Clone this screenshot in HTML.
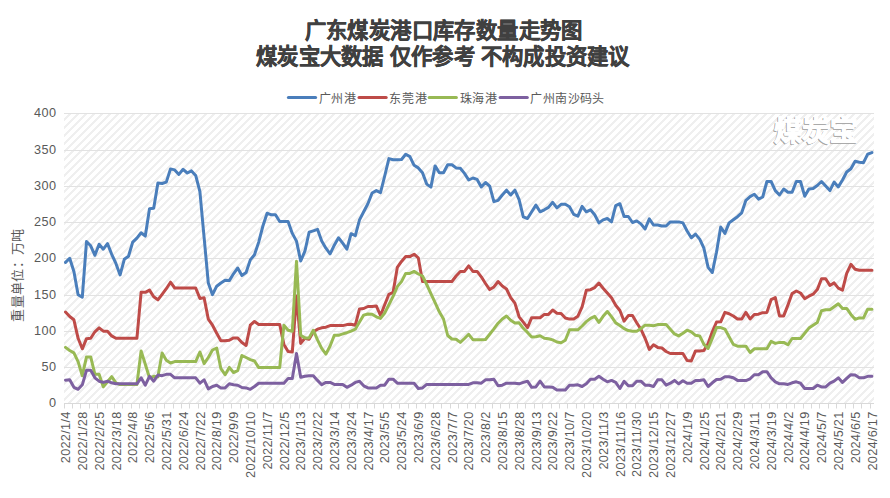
<!DOCTYPE html><html lang="zh-CN"><head><meta charset="utf-8"><style>html,body{margin:0;padding:0;background:#fff;width:890px;height:498px;overflow:hidden}svg{display:block}text{font-family:"Liberation Sans",sans-serif}</style></head><body>
<svg width="890" height="498" viewBox="0 0 890 498">
<defs><pattern id="h" patternUnits="userSpaceOnUse" x="0" y="0" width="8" height="8"><g fill="#efefef" shape-rendering="crispEdges"><rect x="0" y="0" width="1" height="1"/><rect x="6" y="0" width="1" height="1"/><rect x="7" y="0" width="1" height="1"/><rect x="5" y="1" width="1" height="1"/><rect x="6" y="1" width="1" height="1"/><rect x="7" y="1" width="1" height="1"/><rect x="4" y="2" width="1" height="1"/><rect x="5" y="2" width="1" height="1"/><rect x="6" y="2" width="1" height="1"/><rect x="3" y="3" width="1" height="1"/><rect x="4" y="3" width="1" height="1"/><rect x="5" y="3" width="1" height="1"/><rect x="2" y="4" width="1" height="1"/><rect x="3" y="4" width="1" height="1"/><rect x="4" y="4" width="1" height="1"/><rect x="1" y="5" width="1" height="1"/><rect x="2" y="5" width="1" height="1"/><rect x="3" y="5" width="1" height="1"/><rect x="0" y="6" width="1" height="1"/><rect x="1" y="6" width="1" height="1"/><rect x="2" y="6" width="1" height="1"/><rect x="0" y="7" width="1" height="1"/><rect x="1" y="7" width="1" height="1"/><rect x="7" y="7" width="1" height="1"/></g></pattern>
<clipPath id="pc"><rect x="64.00" y="110.40" width="810.00" height="293.00"/></clipPath></defs>
<rect x="64.00" y="113.40" width="810.00" height="290.00" fill="url(#h)"/>
<line x1="64.0" x2="874.0" y1="367.5" y2="367.5" stroke="#e2e2e2" stroke-width="1"/>
<line x1="64.0" x2="874.0" y1="331.5" y2="331.5" stroke="#e2e2e2" stroke-width="1"/>
<line x1="64.0" x2="874.0" y1="295.5" y2="295.5" stroke="#e2e2e2" stroke-width="1"/>
<line x1="64.0" x2="874.0" y1="258.5" y2="258.5" stroke="#e2e2e2" stroke-width="1"/>
<line x1="64.0" x2="874.0" y1="222.5" y2="222.5" stroke="#e2e2e2" stroke-width="1"/>
<line x1="64.0" x2="874.0" y1="186.5" y2="186.5" stroke="#e2e2e2" stroke-width="1"/>
<line x1="64.0" x2="874.0" y1="150.5" y2="150.5" stroke="#e2e2e2" stroke-width="1"/>
<line x1="64.0" x2="874.0" y1="113.5" y2="113.5" stroke="#e2e2e2" stroke-width="1"/>
<line x1="64.0" x2="874.0" y1="403.5" y2="403.5" stroke="#d9d9d9" stroke-width="1"/>
<line x1="64.5" x2="64.5" y1="403.5" y2="408.5" stroke="#d9d9d9" stroke-width="1"/>
<line x1="72.5" x2="72.5" y1="403.5" y2="408.5" stroke="#d9d9d9" stroke-width="1"/>
<line x1="80.5" x2="80.5" y1="403.5" y2="408.5" stroke="#d9d9d9" stroke-width="1"/>
<line x1="89.5" x2="89.5" y1="403.5" y2="408.5" stroke="#d9d9d9" stroke-width="1"/>
<line x1="97.5" x2="97.5" y1="403.5" y2="408.5" stroke="#d9d9d9" stroke-width="1"/>
<line x1="105.5" x2="105.5" y1="403.5" y2="408.5" stroke="#d9d9d9" stroke-width="1"/>
<line x1="114.5" x2="114.5" y1="403.5" y2="408.5" stroke="#d9d9d9" stroke-width="1"/>
<line x1="122.5" x2="122.5" y1="403.5" y2="408.5" stroke="#d9d9d9" stroke-width="1"/>
<line x1="131.5" x2="131.5" y1="403.5" y2="408.5" stroke="#d9d9d9" stroke-width="1"/>
<line x1="139.5" x2="139.5" y1="403.5" y2="408.5" stroke="#d9d9d9" stroke-width="1"/>
<line x1="147.5" x2="147.5" y1="403.5" y2="408.5" stroke="#d9d9d9" stroke-width="1"/>
<line x1="156.5" x2="156.5" y1="403.5" y2="408.5" stroke="#d9d9d9" stroke-width="1"/>
<line x1="164.5" x2="164.5" y1="403.5" y2="408.5" stroke="#d9d9d9" stroke-width="1"/>
<line x1="173.5" x2="173.5" y1="403.5" y2="408.5" stroke="#d9d9d9" stroke-width="1"/>
<line x1="181.5" x2="181.5" y1="403.5" y2="408.5" stroke="#d9d9d9" stroke-width="1"/>
<line x1="189.5" x2="189.5" y1="403.5" y2="408.5" stroke="#d9d9d9" stroke-width="1"/>
<line x1="198.5" x2="198.5" y1="403.5" y2="408.5" stroke="#d9d9d9" stroke-width="1"/>
<line x1="206.5" x2="206.5" y1="403.5" y2="408.5" stroke="#d9d9d9" stroke-width="1"/>
<line x1="215.5" x2="215.5" y1="403.5" y2="408.5" stroke="#d9d9d9" stroke-width="1"/>
<line x1="223.5" x2="223.5" y1="403.5" y2="408.5" stroke="#d9d9d9" stroke-width="1"/>
<line x1="231.5" x2="231.5" y1="403.5" y2="408.5" stroke="#d9d9d9" stroke-width="1"/>
<line x1="240.5" x2="240.5" y1="403.5" y2="408.5" stroke="#d9d9d9" stroke-width="1"/>
<line x1="248.5" x2="248.5" y1="403.5" y2="408.5" stroke="#d9d9d9" stroke-width="1"/>
<line x1="257.5" x2="257.5" y1="403.5" y2="408.5" stroke="#d9d9d9" stroke-width="1"/>
<line x1="265.5" x2="265.5" y1="403.5" y2="408.5" stroke="#d9d9d9" stroke-width="1"/>
<line x1="273.5" x2="273.5" y1="403.5" y2="408.5" stroke="#d9d9d9" stroke-width="1"/>
<line x1="282.5" x2="282.5" y1="403.5" y2="408.5" stroke="#d9d9d9" stroke-width="1"/>
<line x1="290.5" x2="290.5" y1="403.5" y2="408.5" stroke="#d9d9d9" stroke-width="1"/>
<line x1="299.5" x2="299.5" y1="403.5" y2="408.5" stroke="#d9d9d9" stroke-width="1"/>
<line x1="307.5" x2="307.5" y1="403.5" y2="408.5" stroke="#d9d9d9" stroke-width="1"/>
<line x1="315.5" x2="315.5" y1="403.5" y2="408.5" stroke="#d9d9d9" stroke-width="1"/>
<line x1="324.5" x2="324.5" y1="403.5" y2="408.5" stroke="#d9d9d9" stroke-width="1"/>
<line x1="332.5" x2="332.5" y1="403.5" y2="408.5" stroke="#d9d9d9" stroke-width="1"/>
<line x1="341.5" x2="341.5" y1="403.5" y2="408.5" stroke="#d9d9d9" stroke-width="1"/>
<line x1="349.5" x2="349.5" y1="403.5" y2="408.5" stroke="#d9d9d9" stroke-width="1"/>
<line x1="357.5" x2="357.5" y1="403.5" y2="408.5" stroke="#d9d9d9" stroke-width="1"/>
<line x1="366.5" x2="366.5" y1="403.5" y2="408.5" stroke="#d9d9d9" stroke-width="1"/>
<line x1="374.5" x2="374.5" y1="403.5" y2="408.5" stroke="#d9d9d9" stroke-width="1"/>
<line x1="383.5" x2="383.5" y1="403.5" y2="408.5" stroke="#d9d9d9" stroke-width="1"/>
<line x1="391.5" x2="391.5" y1="403.5" y2="408.5" stroke="#d9d9d9" stroke-width="1"/>
<line x1="399.5" x2="399.5" y1="403.5" y2="408.5" stroke="#d9d9d9" stroke-width="1"/>
<line x1="408.5" x2="408.5" y1="403.5" y2="408.5" stroke="#d9d9d9" stroke-width="1"/>
<line x1="416.5" x2="416.5" y1="403.5" y2="408.5" stroke="#d9d9d9" stroke-width="1"/>
<line x1="425.5" x2="425.5" y1="403.5" y2="408.5" stroke="#d9d9d9" stroke-width="1"/>
<line x1="433.5" x2="433.5" y1="403.5" y2="408.5" stroke="#d9d9d9" stroke-width="1"/>
<line x1="441.5" x2="441.5" y1="403.5" y2="408.5" stroke="#d9d9d9" stroke-width="1"/>
<line x1="450.5" x2="450.5" y1="403.5" y2="408.5" stroke="#d9d9d9" stroke-width="1"/>
<line x1="458.5" x2="458.5" y1="403.5" y2="408.5" stroke="#d9d9d9" stroke-width="1"/>
<line x1="467.5" x2="467.5" y1="403.5" y2="408.5" stroke="#d9d9d9" stroke-width="1"/>
<line x1="475.5" x2="475.5" y1="403.5" y2="408.5" stroke="#d9d9d9" stroke-width="1"/>
<line x1="483.5" x2="483.5" y1="403.5" y2="408.5" stroke="#d9d9d9" stroke-width="1"/>
<line x1="492.5" x2="492.5" y1="403.5" y2="408.5" stroke="#d9d9d9" stroke-width="1"/>
<line x1="500.5" x2="500.5" y1="403.5" y2="408.5" stroke="#d9d9d9" stroke-width="1"/>
<line x1="509.5" x2="509.5" y1="403.5" y2="408.5" stroke="#d9d9d9" stroke-width="1"/>
<line x1="517.5" x2="517.5" y1="403.5" y2="408.5" stroke="#d9d9d9" stroke-width="1"/>
<line x1="525.5" x2="525.5" y1="403.5" y2="408.5" stroke="#d9d9d9" stroke-width="1"/>
<line x1="534.5" x2="534.5" y1="403.5" y2="408.5" stroke="#d9d9d9" stroke-width="1"/>
<line x1="542.5" x2="542.5" y1="403.5" y2="408.5" stroke="#d9d9d9" stroke-width="1"/>
<line x1="551.5" x2="551.5" y1="403.5" y2="408.5" stroke="#d9d9d9" stroke-width="1"/>
<line x1="559.5" x2="559.5" y1="403.5" y2="408.5" stroke="#d9d9d9" stroke-width="1"/>
<line x1="567.5" x2="567.5" y1="403.5" y2="408.5" stroke="#d9d9d9" stroke-width="1"/>
<line x1="576.5" x2="576.5" y1="403.5" y2="408.5" stroke="#d9d9d9" stroke-width="1"/>
<line x1="584.5" x2="584.5" y1="403.5" y2="408.5" stroke="#d9d9d9" stroke-width="1"/>
<line x1="593.5" x2="593.5" y1="403.5" y2="408.5" stroke="#d9d9d9" stroke-width="1"/>
<line x1="601.5" x2="601.5" y1="403.5" y2="408.5" stroke="#d9d9d9" stroke-width="1"/>
<line x1="609.5" x2="609.5" y1="403.5" y2="408.5" stroke="#d9d9d9" stroke-width="1"/>
<line x1="618.5" x2="618.5" y1="403.5" y2="408.5" stroke="#d9d9d9" stroke-width="1"/>
<line x1="626.5" x2="626.5" y1="403.5" y2="408.5" stroke="#d9d9d9" stroke-width="1"/>
<line x1="635.5" x2="635.5" y1="403.5" y2="408.5" stroke="#d9d9d9" stroke-width="1"/>
<line x1="643.5" x2="643.5" y1="403.5" y2="408.5" stroke="#d9d9d9" stroke-width="1"/>
<line x1="651.5" x2="651.5" y1="403.5" y2="408.5" stroke="#d9d9d9" stroke-width="1"/>
<line x1="660.5" x2="660.5" y1="403.5" y2="408.5" stroke="#d9d9d9" stroke-width="1"/>
<line x1="668.5" x2="668.5" y1="403.5" y2="408.5" stroke="#d9d9d9" stroke-width="1"/>
<line x1="677.5" x2="677.5" y1="403.5" y2="408.5" stroke="#d9d9d9" stroke-width="1"/>
<line x1="685.5" x2="685.5" y1="403.5" y2="408.5" stroke="#d9d9d9" stroke-width="1"/>
<line x1="693.5" x2="693.5" y1="403.5" y2="408.5" stroke="#d9d9d9" stroke-width="1"/>
<line x1="702.5" x2="702.5" y1="403.5" y2="408.5" stroke="#d9d9d9" stroke-width="1"/>
<line x1="710.5" x2="710.5" y1="403.5" y2="408.5" stroke="#d9d9d9" stroke-width="1"/>
<line x1="719.5" x2="719.5" y1="403.5" y2="408.5" stroke="#d9d9d9" stroke-width="1"/>
<line x1="727.5" x2="727.5" y1="403.5" y2="408.5" stroke="#d9d9d9" stroke-width="1"/>
<line x1="735.5" x2="735.5" y1="403.5" y2="408.5" stroke="#d9d9d9" stroke-width="1"/>
<line x1="744.5" x2="744.5" y1="403.5" y2="408.5" stroke="#d9d9d9" stroke-width="1"/>
<line x1="752.5" x2="752.5" y1="403.5" y2="408.5" stroke="#d9d9d9" stroke-width="1"/>
<line x1="761.5" x2="761.5" y1="403.5" y2="408.5" stroke="#d9d9d9" stroke-width="1"/>
<line x1="769.5" x2="769.5" y1="403.5" y2="408.5" stroke="#d9d9d9" stroke-width="1"/>
<line x1="777.5" x2="777.5" y1="403.5" y2="408.5" stroke="#d9d9d9" stroke-width="1"/>
<line x1="786.5" x2="786.5" y1="403.5" y2="408.5" stroke="#d9d9d9" stroke-width="1"/>
<line x1="794.5" x2="794.5" y1="403.5" y2="408.5" stroke="#d9d9d9" stroke-width="1"/>
<line x1="803.5" x2="803.5" y1="403.5" y2="408.5" stroke="#d9d9d9" stroke-width="1"/>
<line x1="811.5" x2="811.5" y1="403.5" y2="408.5" stroke="#d9d9d9" stroke-width="1"/>
<line x1="819.5" x2="819.5" y1="403.5" y2="408.5" stroke="#d9d9d9" stroke-width="1"/>
<line x1="828.5" x2="828.5" y1="403.5" y2="408.5" stroke="#d9d9d9" stroke-width="1"/>
<line x1="836.5" x2="836.5" y1="403.5" y2="408.5" stroke="#d9d9d9" stroke-width="1"/>
<line x1="845.5" x2="845.5" y1="403.5" y2="408.5" stroke="#d9d9d9" stroke-width="1"/>
<line x1="853.5" x2="853.5" y1="403.5" y2="408.5" stroke="#d9d9d9" stroke-width="1"/>
<line x1="861.5" x2="861.5" y1="403.5" y2="408.5" stroke="#d9d9d9" stroke-width="1"/>
<line x1="870.5" x2="870.5" y1="403.5" y2="408.5" stroke="#d9d9d9" stroke-width="1"/>
<text x="56.6" y="407.35" font-size="12.7" letter-spacing="0.5" fill="#595959" text-anchor="end">0</text>
<text x="56.6" y="371.35" font-size="12.7" letter-spacing="0.5" fill="#595959" text-anchor="end">50</text>
<text x="56.6" y="335.35" font-size="12.7" letter-spacing="0.5" fill="#595959" text-anchor="end">100</text>
<text x="56.6" y="299.35" font-size="12.7" letter-spacing="0.5" fill="#595959" text-anchor="end">150</text>
<text x="56.6" y="262.35" font-size="12.7" letter-spacing="0.5" fill="#595959" text-anchor="end">200</text>
<text x="56.6" y="226.35" font-size="12.7" letter-spacing="0.5" fill="#595959" text-anchor="end">250</text>
<text x="56.6" y="190.35" font-size="12.7" letter-spacing="0.5" fill="#595959" text-anchor="end">300</text>
<text x="56.6" y="154.35" font-size="12.7" letter-spacing="0.5" fill="#595959" text-anchor="end">350</text>
<text x="56.6" y="117.35" font-size="12.7" letter-spacing="0.5" fill="#595959" text-anchor="end">400</text>
<text transform="translate(70.15,411.4) rotate(-90)" font-size="12.7" letter-spacing="0.3" fill="#595959" text-anchor="end">2022/1/4</text>
<text transform="translate(86.95,411.4) rotate(-90)" font-size="12.7" letter-spacing="0.3" fill="#595959" text-anchor="end">2022/1/28</text>
<text transform="translate(103.75,411.4) rotate(-90)" font-size="12.7" letter-spacing="0.3" fill="#595959" text-anchor="end">2022/2/25</text>
<text transform="translate(120.55,411.4) rotate(-90)" font-size="12.7" letter-spacing="0.3" fill="#595959" text-anchor="end">2022/3/18</text>
<text transform="translate(137.35,411.4) rotate(-90)" font-size="12.7" letter-spacing="0.3" fill="#595959" text-anchor="end">2022/4/8</text>
<text transform="translate(154.15,411.4) rotate(-90)" font-size="12.7" letter-spacing="0.3" fill="#595959" text-anchor="end">2022/5/6</text>
<text transform="translate(170.95,411.4) rotate(-90)" font-size="12.7" letter-spacing="0.3" fill="#595959" text-anchor="end">2022/5/31</text>
<text transform="translate(187.75,411.4) rotate(-90)" font-size="12.7" letter-spacing="0.3" fill="#595959" text-anchor="end">2022/6/24</text>
<text transform="translate(204.55,411.4) rotate(-90)" font-size="12.7" letter-spacing="0.3" fill="#595959" text-anchor="end">2022/7/22</text>
<text transform="translate(221.35,411.4) rotate(-90)" font-size="12.7" letter-spacing="0.3" fill="#595959" text-anchor="end">2022/8/19</text>
<text transform="translate(238.15,411.4) rotate(-90)" font-size="12.7" letter-spacing="0.3" fill="#595959" text-anchor="end">2022/9/9</text>
<text transform="translate(254.95,411.4) rotate(-90)" font-size="12.7" letter-spacing="0.3" fill="#595959" text-anchor="end">2022/10/10</text>
<text transform="translate(271.75,411.4) rotate(-90)" font-size="12.7" letter-spacing="0.3" fill="#595959" text-anchor="end">2022/11/7</text>
<text transform="translate(288.55,411.4) rotate(-90)" font-size="12.7" letter-spacing="0.3" fill="#595959" text-anchor="end">2022/12/5</text>
<text transform="translate(305.35,411.4) rotate(-90)" font-size="12.7" letter-spacing="0.3" fill="#595959" text-anchor="end">2023/1/13</text>
<text transform="translate(322.15,411.4) rotate(-90)" font-size="12.7" letter-spacing="0.3" fill="#595959" text-anchor="end">2023/2/22</text>
<text transform="translate(338.95,411.4) rotate(-90)" font-size="12.7" letter-spacing="0.3" fill="#595959" text-anchor="end">2023/3/14</text>
<text transform="translate(355.75,411.4) rotate(-90)" font-size="12.7" letter-spacing="0.3" fill="#595959" text-anchor="end">2023/3/24</text>
<text transform="translate(372.55,411.4) rotate(-90)" font-size="12.7" letter-spacing="0.3" fill="#595959" text-anchor="end">2023/4/17</text>
<text transform="translate(389.35,411.4) rotate(-90)" font-size="12.7" letter-spacing="0.3" fill="#595959" text-anchor="end">2023/5/5</text>
<text transform="translate(406.15,411.4) rotate(-90)" font-size="12.7" letter-spacing="0.3" fill="#595959" text-anchor="end">2023/5/24</text>
<text transform="translate(422.95,411.4) rotate(-90)" font-size="12.7" letter-spacing="0.3" fill="#595959" text-anchor="end">2023/6/9</text>
<text transform="translate(439.75,411.4) rotate(-90)" font-size="12.7" letter-spacing="0.3" fill="#595959" text-anchor="end">2023/6/28</text>
<text transform="translate(456.55,411.4) rotate(-90)" font-size="12.7" letter-spacing="0.3" fill="#595959" text-anchor="end">2023/7/7</text>
<text transform="translate(473.35,411.4) rotate(-90)" font-size="12.7" letter-spacing="0.3" fill="#595959" text-anchor="end">2023/7/20</text>
<text transform="translate(490.15,411.4) rotate(-90)" font-size="12.7" letter-spacing="0.3" fill="#595959" text-anchor="end">2023/8/2</text>
<text transform="translate(506.95,411.4) rotate(-90)" font-size="12.7" letter-spacing="0.3" fill="#595959" text-anchor="end">2023/8/15</text>
<text transform="translate(523.75,411.4) rotate(-90)" font-size="12.7" letter-spacing="0.3" fill="#595959" text-anchor="end">2023/8/28</text>
<text transform="translate(540.55,411.4) rotate(-90)" font-size="12.7" letter-spacing="0.3" fill="#595959" text-anchor="end">2023/9/13</text>
<text transform="translate(557.35,411.4) rotate(-90)" font-size="12.7" letter-spacing="0.3" fill="#595959" text-anchor="end">2023/9/22</text>
<text transform="translate(574.15,411.4) rotate(-90)" font-size="12.7" letter-spacing="0.3" fill="#595959" text-anchor="end">2023/10/7</text>
<text transform="translate(590.95,411.4) rotate(-90)" font-size="12.7" letter-spacing="0.3" fill="#595959" text-anchor="end">2023/10/20</text>
<text transform="translate(607.75,411.4) rotate(-90)" font-size="12.7" letter-spacing="0.3" fill="#595959" text-anchor="end">2023/11/3</text>
<text transform="translate(624.55,411.4) rotate(-90)" font-size="12.7" letter-spacing="0.3" fill="#595959" text-anchor="end">2023/11/16</text>
<text transform="translate(641.35,411.4) rotate(-90)" font-size="12.7" letter-spacing="0.3" fill="#595959" text-anchor="end">2023/11/30</text>
<text transform="translate(658.15,411.4) rotate(-90)" font-size="12.7" letter-spacing="0.3" fill="#595959" text-anchor="end">2023/12/15</text>
<text transform="translate(674.95,411.4) rotate(-90)" font-size="12.7" letter-spacing="0.3" fill="#595959" text-anchor="end">2023/12/27</text>
<text transform="translate(691.75,411.4) rotate(-90)" font-size="12.7" letter-spacing="0.3" fill="#595959" text-anchor="end">2024/1/9</text>
<text transform="translate(708.55,411.4) rotate(-90)" font-size="12.7" letter-spacing="0.3" fill="#595959" text-anchor="end">2024/1/25</text>
<text transform="translate(725.35,411.4) rotate(-90)" font-size="12.7" letter-spacing="0.3" fill="#595959" text-anchor="end">2024/2/21</text>
<text transform="translate(742.15,411.4) rotate(-90)" font-size="12.7" letter-spacing="0.3" fill="#595959" text-anchor="end">2024/2/29</text>
<text transform="translate(758.95,411.4) rotate(-90)" font-size="12.7" letter-spacing="0.3" fill="#595959" text-anchor="end">2024/3/11</text>
<text transform="translate(775.75,411.4) rotate(-90)" font-size="12.7" letter-spacing="0.3" fill="#595959" text-anchor="end">2024/3/19</text>
<text transform="translate(792.55,411.4) rotate(-90)" font-size="12.7" letter-spacing="0.3" fill="#595959" text-anchor="end">2024/4/2</text>
<text transform="translate(809.35,411.4) rotate(-90)" font-size="12.7" letter-spacing="0.3" fill="#595959" text-anchor="end">2024/4/19</text>
<text transform="translate(826.15,411.4) rotate(-90)" font-size="12.7" letter-spacing="0.3" fill="#595959" text-anchor="end">2024/5/7</text>
<text transform="translate(842.95,411.4) rotate(-90)" font-size="12.7" letter-spacing="0.3" fill="#595959" text-anchor="end">2024/5/21</text>
<text transform="translate(859.75,411.4) rotate(-90)" font-size="12.7" letter-spacing="0.3" fill="#595959" text-anchor="end">2024/6/5</text>
<text transform="translate(876.55,411.4) rotate(-90)" font-size="12.7" letter-spacing="0.3" fill="#595959" text-anchor="end">2024/6/17</text>
<text transform="translate(22.3,275.0) rotate(-90)" font-size="13" letter-spacing="0.3" fill="#595959" text-anchor="middle">重量单位：万吨</text>
<text x="443.7" y="38" font-size="21.33" letter-spacing="0.4" font-weight="bold" fill="#404040" stroke="#404040" stroke-width="0.45" text-anchor="middle">广东煤炭港口库存数量走势图</text>
<text x="442.9" y="63.7" font-size="21.33" letter-spacing="0.25" font-weight="bold" fill="#404040" stroke="#404040" stroke-width="0.45" text-anchor="middle">煤炭宝大数据 仅作参考 不构成投资建议</text>
<line x1="288.4" x2="315.6" y1="97.55" y2="97.55" stroke="#4a7ebb" stroke-width="3" stroke-linecap="round"/>
<text x="318.6" y="102.8" font-size="12" letter-spacing="0.7" fill="#595959">广州港</text>
<line x1="359.0" x2="386.2" y1="97.55" y2="97.55" stroke="#be4b48" stroke-width="3" stroke-linecap="round"/>
<text x="389.2" y="102.8" font-size="12" letter-spacing="0.7" fill="#595959">东莞港</text>
<line x1="429.2" x2="456.4" y1="97.55" y2="97.55" stroke="#98b954" stroke-width="3" stroke-linecap="round"/>
<text x="459.5" y="102.8" font-size="12" letter-spacing="0.7" fill="#595959">珠海港</text>
<line x1="500.1" x2="527.3" y1="97.55" y2="97.55" stroke="#7d60a0" stroke-width="3" stroke-linecap="round"/>
<text x="530.4" y="102.8" font-size="12" letter-spacing="0.4" fill="#595959">广州南沙码头</text>
<text x="816.3" y="141.3" font-size="28" font-weight="bold" fill="#a6a6a6" stroke="#a6a6a6" stroke-width="0.6" stroke-linejoin="round" text-anchor="middle" transform="translate(-0.8,0.8)">煤炭宝</text>
<text x="816.3" y="141.3" font-size="28" font-weight="bold" fill="#ffffff" stroke="#ffffff" stroke-width="0.8" stroke-linejoin="round" text-anchor="middle">煤炭宝</text>
<path d="M65.50 262.40 L69.70 258.30 L73.90 271.50 L78.10 294.70 L82.30 297.20 L86.50 241.60 L90.70 245.80 L94.90 255.30 L99.10 244.20 L103.30 249.20 L107.50 243.60 L111.70 254.30 L115.90 263.40 L120.10 274.90 L124.30 259.30 L128.50 256.30 L132.70 242.10 L136.90 238.10 L141.10 232.80 L145.30 236.10 L149.50 208.80 L153.70 208.20 L157.90 183.10 L162.10 183.50 L166.30 182.10 L170.50 168.90 L174.70 169.90 L178.90 174.40 L183.10 169.30 L187.30 173.00 L191.50 170.90 L195.70 175.40 L199.90 191.60 L204.10 237.30 L208.30 283.00 L212.50 294.70 L216.70 286.20 L220.90 283.00 L225.10 280.20 L229.30 280.60 L233.50 273.80 L237.70 268.00 L241.90 275.50 L246.10 272.50 L250.30 259.90 L254.50 254.70 L258.70 242.10 L262.90 226.00 L267.10 213.20 L271.30 214.80 L275.50 214.80 L279.70 221.50 L283.90 221.50 L288.10 221.50 L292.30 233.40 L296.50 241.10 L300.70 261.00 L304.90 251.20 L309.10 232.20 L313.30 230.80 L317.50 229.30 L321.70 241.10 L325.90 248.20 L330.10 253.90 L334.30 245.20 L338.50 237.80 L342.70 243.10 L346.90 249.20 L351.10 233.70 L355.30 235.60 L359.50 219.90 L363.70 211.80 L367.90 203.70 L372.10 193.00 L376.30 190.60 L380.50 192.60 L384.70 176.00 L388.90 158.60 L393.10 159.80 L397.30 159.80 L401.50 159.50 L405.70 154.20 L409.90 156.60 L414.10 165.30 L418.30 167.90 L422.50 172.80 L426.70 184.10 L430.90 187.10 L435.10 165.90 L439.30 172.80 L443.50 172.80 L447.70 164.70 L451.90 164.70 L456.10 167.90 L460.30 168.30 L464.50 173.40 L468.70 180.00 L472.90 178.00 L477.10 179.40 L481.30 186.90 L485.50 182.50 L489.70 186.10 L493.90 201.70 L498.10 200.30 L502.30 195.00 L506.50 190.20 L510.70 195.00 L514.90 190.20 L519.10 199.70 L523.30 216.90 L527.50 218.50 L531.70 211.80 L535.90 205.10 L540.10 211.80 L544.30 209.80 L548.50 207.40 L552.70 202.30 L556.90 207.80 L561.10 204.30 L565.30 204.30 L569.50 206.70 L573.70 214.40 L577.90 216.20 L582.10 206.30 L586.30 211.80 L590.50 209.80 L594.70 214.80 L598.90 222.90 L603.10 219.90 L607.30 218.50 L611.50 221.90 L615.70 205.70 L619.90 203.70 L624.10 216.50 L628.30 216.50 L632.50 222.50 L636.70 220.90 L640.90 223.90 L645.10 229.00 L649.30 218.90 L653.50 225.00 L657.70 225.00 L661.90 226.00 L666.10 226.00 L670.30 221.90 L674.50 221.90 L678.70 221.90 L682.90 222.90 L687.10 231.00 L691.30 237.80 L695.50 234.10 L699.70 239.10 L703.90 248.20 L708.10 267.40 L712.30 272.50 L716.50 252.20 L720.70 227.00 L724.90 233.40 L729.10 222.90 L733.30 219.80 L737.50 216.70 L741.70 212.80 L745.90 200.30 L750.10 196.60 L754.30 194.20 L758.50 199.10 L762.70 197.00 L766.90 181.50 L771.10 181.50 L775.30 190.60 L779.50 195.00 L783.70 189.00 L787.90 192.20 L792.10 192.20 L796.30 181.50 L800.50 181.50 L804.70 196.20 L808.90 189.00 L813.10 188.50 L817.30 185.50 L821.50 181.50 L825.70 186.10 L829.90 190.60 L834.10 182.10 L838.30 186.90 L842.50 180.00 L846.70 172.00 L850.90 168.70 L855.10 161.20 L859.30 162.20 L863.50 162.70 L867.70 154.20 L871.90 152.60" fill="none" stroke="#4a7ebb" stroke-width="3" stroke-linejoin="round" stroke-linecap="round" clip-path="url(#pc)"/>
<path d="M65.50 312.00 L69.70 316.50 L73.90 319.80 L78.10 338.30 L82.30 348.80 L86.50 338.70 L90.70 338.30 L94.90 331.80 L99.10 327.80 L103.30 331.20 L107.50 331.20 L111.70 335.90 L115.90 338.30 L120.10 338.30 L124.30 338.30 L128.50 338.30 L132.70 338.30 L136.90 338.30 L141.10 292.30 L145.30 292.30 L149.50 290.10 L153.70 296.70 L157.90 299.80 L162.10 294.30 L166.30 288.70 L170.50 282.20 L174.70 288.00 L178.90 288.00 L183.10 288.00 L187.30 288.00 L191.50 288.00 L195.70 288.00 L199.90 298.40 L204.10 297.80 L208.30 319.10 L212.50 325.20 L216.70 333.30 L220.90 340.70 L225.10 340.70 L229.30 340.30 L233.50 337.90 L237.70 337.90 L241.90 342.50 L246.10 345.40 L250.30 325.20 L254.50 321.50 L258.70 324.40 L262.90 324.40 L267.10 324.40 L271.30 324.40 L275.50 324.40 L279.70 324.40 L283.90 344.40 L288.10 351.50 L292.30 352.10 L296.50 296.00 L300.70 343.40 L304.90 338.30 L309.10 339.30 L313.30 331.80 L317.50 329.20 L321.70 327.80 L325.90 327.20 L330.10 325.60 L334.30 325.60 L338.50 325.60 L342.70 325.60 L346.90 324.60 L351.10 324.20 L355.30 325.20 L359.50 308.90 L363.70 308.50 L367.90 306.50 L372.10 306.50 L376.30 305.90 L380.50 315.50 L384.70 304.80 L388.90 294.30 L393.10 292.30 L397.30 267.40 L401.50 261.40 L405.70 256.60 L409.90 256.60 L414.10 254.20 L418.30 257.80 L422.50 281.50 L426.70 281.50 L430.90 281.50 L435.10 281.50 L439.30 281.50 L443.50 281.50 L447.70 281.50 L451.90 281.50 L456.10 276.00 L460.30 271.40 L464.50 271.40 L468.70 265.90 L472.90 271.40 L477.10 271.40 L481.30 276.80 L485.50 283.50 L489.70 289.60 L493.90 286.90 L498.10 281.50 L502.30 286.10 L506.50 289.00 L510.70 297.60 L514.90 303.10 L519.10 316.80 L523.30 322.20 L527.50 327.60 L531.70 317.70 L535.90 317.70 L540.10 317.70 L544.30 314.40 L548.50 314.40 L552.70 310.00 L556.90 313.20 L561.10 313.40 L565.30 318.00 L569.50 319.10 L573.70 319.10 L577.90 316.20 L582.10 306.90 L586.30 290.30 L590.50 289.70 L594.70 287.60 L598.90 283.00 L603.10 288.30 L607.30 293.10 L611.50 297.80 L615.70 305.20 L619.90 310.50 L624.10 321.20 L628.30 315.60 L632.50 315.60 L636.70 322.70 L640.90 329.20 L645.10 338.30 L649.30 349.40 L653.50 344.80 L657.70 347.40 L661.90 348.00 L666.10 351.50 L670.30 353.50 L674.50 353.50 L678.70 353.50 L682.90 353.50 L687.10 360.60 L691.30 361.00 L695.50 350.90 L699.70 350.90 L703.90 350.50 L708.10 343.40 L712.30 331.80 L716.50 322.00 L720.70 321.80 L724.90 312.40 L729.10 313.70 L733.30 316.00 L737.50 319.00 L741.70 319.00 L745.90 312.40 L750.10 319.00 L754.30 314.40 L758.50 314.20 L762.70 312.70 L766.90 312.40 L771.10 299.70 L775.30 297.60 L779.50 315.90 L783.70 315.90 L787.90 305.10 L792.10 293.60 L796.30 291.00 L800.50 293.00 L804.70 298.70 L808.90 296.20 L813.10 294.20 L817.30 289.60 L821.50 278.80 L825.70 278.80 L829.90 285.50 L834.10 282.90 L838.30 288.10 L842.50 290.20 L846.70 273.40 L850.90 264.30 L855.10 269.30 L859.30 270.30 L863.50 270.30 L867.70 270.30 L871.90 270.30" fill="none" stroke="#be4b48" stroke-width="3" stroke-linejoin="round" stroke-linecap="round" clip-path="url(#pc)"/>
<path d="M65.50 347.40 L69.70 350.50 L73.90 352.90 L78.10 361.60 L82.30 375.70 L86.50 356.90 L90.70 356.90 L94.90 374.30 L99.10 374.30 L103.30 386.90 L107.50 381.80 L111.70 376.70 L115.90 382.80 L120.10 384.60 L124.30 384.60 L128.50 384.60 L132.70 384.60 L136.90 384.60 L141.10 350.90 L145.30 364.20 L149.50 377.80 L153.70 376.30 L157.90 376.70 L162.10 353.10 L166.30 360.20 L170.50 363.00 L174.70 361.60 L178.90 361.60 L183.10 361.60 L187.30 361.60 L191.50 361.60 L195.70 361.60 L199.90 352.10 L204.10 363.60 L208.30 357.50 L212.50 350.00 L216.70 348.00 L220.90 368.70 L225.10 374.70 L229.30 367.40 L233.50 372.50 L237.70 370.70 L241.90 355.50 L246.10 357.50 L250.30 359.60 L254.50 361.00 L258.70 367.60 L262.90 367.60 L267.10 367.60 L271.30 367.60 L275.50 367.60 L279.70 367.60 L283.90 325.20 L288.10 330.20 L292.30 331.20 L296.50 261.30 L300.70 335.30 L304.90 337.90 L309.10 337.90 L313.30 330.20 L317.50 339.90 L321.70 348.40 L325.90 354.10 L330.10 346.00 L334.30 335.30 L338.50 335.30 L342.70 333.90 L346.90 332.70 L351.10 331.20 L355.30 329.20 L359.50 322.10 L363.70 315.10 L367.90 314.00 L372.10 314.20 L376.30 316.80 L380.50 318.40 L384.70 313.00 L388.90 304.80 L393.10 296.30 L397.30 286.60 L401.50 281.60 L405.70 273.40 L409.90 273.40 L414.10 271.40 L418.30 274.00 L422.50 276.00 L426.70 284.50 L430.90 293.60 L435.10 302.70 L439.30 311.80 L443.50 319.00 L447.70 335.50 L451.90 339.00 L456.10 339.20 L460.30 342.40 L464.50 338.50 L468.70 334.30 L472.90 339.70 L477.10 339.70 L481.30 339.70 L485.50 339.50 L489.70 334.20 L493.90 328.90 L498.10 323.20 L502.30 319.00 L506.50 316.00 L510.70 320.20 L514.90 323.00 L519.10 322.80 L523.30 328.30 L527.50 332.40 L531.70 337.00 L535.90 336.70 L540.10 335.70 L544.30 338.20 L548.50 338.70 L552.70 339.90 L556.90 342.00 L561.10 342.80 L565.30 340.30 L569.50 329.80 L573.70 329.80 L577.90 329.80 L582.10 326.00 L586.30 321.60 L590.50 318.40 L594.70 316.40 L598.90 322.30 L603.10 316.30 L607.30 311.50 L611.50 316.60 L615.70 322.90 L619.90 325.50 L624.10 328.60 L628.30 330.60 L632.50 331.20 L636.70 331.20 L640.90 328.60 L645.10 325.20 L649.30 325.20 L653.50 325.80 L657.70 324.60 L661.90 324.60 L666.10 324.60 L670.30 329.20 L674.50 333.90 L678.70 335.90 L682.90 333.30 L687.10 330.20 L691.30 331.80 L695.50 335.30 L699.70 335.90 L703.90 344.40 L708.10 348.40 L712.30 338.30 L716.50 327.60 L720.70 327.60 L724.90 329.10 L729.10 336.70 L733.30 344.40 L737.50 346.20 L741.70 346.20 L745.90 346.20 L750.10 352.50 L754.30 348.80 L758.50 348.80 L762.70 348.80 L766.90 348.80 L771.10 341.40 L775.30 343.40 L779.50 342.40 L783.70 342.40 L787.90 344.80 L792.10 338.50 L796.30 338.50 L800.50 338.50 L804.70 333.20 L808.90 328.10 L813.10 325.30 L817.30 322.50 L821.50 310.80 L825.70 309.80 L829.90 309.80 L834.10 306.70 L838.30 303.70 L842.50 308.40 L846.70 308.40 L850.90 314.40 L855.10 319.30 L859.30 317.90 L863.50 317.90 L867.70 309.20 L871.90 309.20" fill="none" stroke="#98b954" stroke-width="3" stroke-linejoin="round" stroke-linecap="round" clip-path="url(#pc)"/>
<path d="M65.50 380.20 L69.70 379.80 L73.90 387.30 L78.10 389.30 L82.30 384.80 L86.50 370.30 L90.70 370.30 L94.90 377.80 L99.10 381.20 L103.30 382.40 L107.50 381.20 L111.70 382.80 L115.90 383.80 L120.10 383.80 L124.30 383.80 L128.50 383.80 L132.70 383.80 L136.90 383.80 L141.10 377.80 L145.30 385.20 L149.50 376.30 L153.70 381.20 L157.90 375.10 L162.10 375.70 L166.30 374.30 L170.50 374.30 L174.70 377.80 L178.90 377.80 L183.10 377.80 L187.30 377.80 L191.50 377.80 L195.70 377.80 L199.90 383.20 L204.10 379.80 L208.30 388.90 L212.50 386.50 L216.70 385.20 L220.90 387.90 L225.10 387.90 L229.30 383.80 L233.50 384.80 L237.70 385.20 L241.90 387.50 L246.10 387.90 L250.30 389.30 L254.50 386.50 L258.70 383.20 L262.90 383.20 L267.10 383.20 L271.30 383.20 L275.50 383.20 L279.70 383.20 L283.90 383.20 L288.10 378.40 L292.30 378.40 L296.50 353.50 L300.70 377.20 L304.90 376.30 L309.10 375.70 L313.30 375.70 L317.50 380.40 L321.70 384.80 L325.90 382.40 L330.10 382.40 L334.30 384.40 L338.50 384.40 L342.70 384.40 L346.90 387.30 L351.10 385.20 L355.30 382.40 L359.50 381.20 L363.70 385.80 L367.90 387.90 L372.10 387.90 L376.30 387.90 L380.50 385.20 L384.70 385.20 L388.90 379.20 L393.10 379.20 L397.30 383.20 L401.50 383.20 L405.70 383.20 L409.90 383.20 L414.10 383.20 L418.30 388.50 L422.50 387.90 L426.70 384.40 L430.90 384.40 L435.10 384.40 L439.30 384.40 L443.50 384.40 L447.70 384.40 L451.90 384.40 L456.10 384.40 L460.30 384.40 L464.50 384.40 L468.70 384.40 L472.90 382.80 L477.10 382.80 L481.30 383.20 L485.50 379.80 L489.70 379.80 L493.90 379.20 L498.10 385.80 L502.30 385.20 L506.50 383.20 L510.70 383.20 L514.90 383.20 L519.10 383.80 L523.30 382.40 L527.50 381.20 L531.70 387.30 L535.90 386.90 L540.10 381.20 L544.30 386.90 L548.50 386.90 L552.70 387.30 L556.90 390.00 L561.10 390.00 L565.30 390.00 L569.50 385.20 L573.70 385.20 L577.90 384.80 L582.10 386.50 L586.30 383.80 L590.50 379.20 L594.70 379.20 L598.90 376.30 L603.10 379.20 L607.30 381.80 L611.50 380.40 L615.70 382.40 L619.90 388.50 L624.10 381.20 L628.30 385.80 L632.50 385.80 L636.70 381.20 L640.90 381.20 L645.10 385.20 L649.30 385.20 L653.50 386.50 L657.70 379.80 L661.90 379.80 L666.10 385.20 L670.30 383.20 L674.50 380.40 L678.70 383.80 L682.90 380.80 L687.10 383.20 L691.30 383.20 L695.50 380.40 L699.70 380.40 L703.90 379.80 L708.10 386.50 L712.30 382.80 L716.50 379.50 L720.70 379.20 L724.90 376.70 L729.10 376.70 L733.30 377.80 L737.50 380.40 L741.70 380.40 L745.90 380.60 L750.10 378.80 L754.30 374.70 L758.50 374.70 L762.70 371.70 L766.90 371.70 L771.10 377.80 L775.30 381.80 L779.50 383.80 L783.70 383.80 L787.90 384.40 L792.10 382.80 L796.30 381.80 L800.50 383.20 L804.70 388.50 L808.90 388.50 L813.10 388.50 L817.30 385.20 L821.50 386.90 L825.70 386.90 L829.90 383.20 L834.10 381.20 L838.30 377.80 L842.50 382.40 L846.70 378.40 L850.90 374.70 L855.10 375.10 L859.30 377.80 L863.50 377.80 L867.70 376.30 L871.90 376.30" fill="none" stroke="#7d60a0" stroke-width="3" stroke-linejoin="round" stroke-linecap="round" clip-path="url(#pc)"/>
</svg></body></html>
